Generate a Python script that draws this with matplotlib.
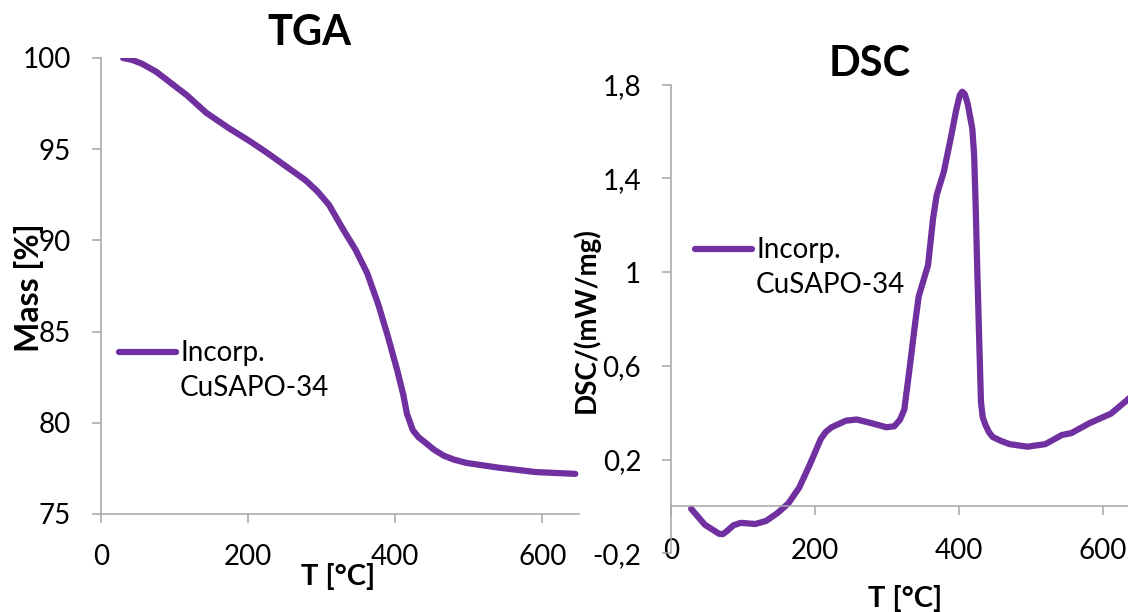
import numpy as np
import matplotlib.pyplot as plt
from matplotlib.ticker import FuncFormatter

# TGA curve (T in °C, mass in %)
tga_temp = [30, 42, 55, 75, 96, 117, 143, 174, 200, 226, 252, 278, 294, 310, 330,
            346, 362, 377, 390, 403, 411, 416, 424, 432, 440, 452, 466, 480, 497,
            539, 591, 645]
tga_mass = [100.0, 99.9, 99.7, 99.25, 98.6, 97.95, 97.0, 96.15, 95.5, 94.8, 94.05,
            93.3, 92.7, 91.95, 90.55, 89.5, 88.2, 86.5, 84.75, 82.85, 81.55, 80.5,
            79.6, 79.2, 78.95, 78.55, 78.2, 77.98, 77.8, 77.55, 77.3, 77.2]

# DSC curve (T in °C, DSC in mW/mg)
dsc_temp = [28, 47, 67, 72, 77, 87, 97, 117, 132, 148, 163, 178, 193, 208, 215,
            223, 243, 258, 279, 299, 310, 318, 324, 331, 339, 344, 357, 364, 369,
            379, 389, 396, 401, 404.5, 408, 412, 418.5, 421, 423, 425.5, 428.5,
            430.5, 433, 437, 442, 447, 458, 470, 495, 520, 543, 556, 581, 611,
            634, 645]
dsc_val = [-0.01, -0.078, -0.117, -0.118, -0.107, -0.08, -0.07, -0.075, -0.062,
           -0.028, 0.013, 0.08, 0.18, 0.288, 0.318, 0.338, 0.366, 0.371, 0.355,
           0.338, 0.342, 0.37, 0.413, 0.58, 0.78, 0.896, 1.03, 1.229, 1.329,
           1.429, 1.579, 1.69, 1.755, 1.77, 1.76, 1.72, 1.612, 1.5, 1.3, 0.996,
           0.663, 0.446, 0.38, 0.346, 0.315, 0.296, 0.28, 0.266, 0.255, 0.266,
           0.305, 0.313, 0.355, 0.396, 0.455, 0.49]

label = "Incorp.\nCuSAPO-34"
purple = "#7030A0"
axis_gray = "#A6A6A6"

plt.rcParams['font.family'] = ['Lato', 'DejaVu Sans']

W, H = 1128, 612
fig = plt.figure(figsize=(W / 100, H / 100), dpi=100)


def px_box(x0, y_top, x1, y_bot):
    return [x0 / W, 1 - y_bot / H, (x1 - x0) / W, (y_bot - y_top) / H]


def style_axes(ax):
    for side in ['top', 'right']:
        ax.spines[side].set_visible(False)
    for side in ['left', 'bottom']:
        ax.spines[side].set_color(axis_gray)
        ax.spines[side].set_linewidth(1.1)
    ax.tick_params(colors=axis_gray, labelcolor='black', labelsize=20,
                   length=6.5, width=1.1, direction='out')


def add_legend(ax, x_px, y_px):
    leg = ax.legend(frameon=False, fontsize=20, loc='upper left',
                    bbox_to_anchor=(x_px / W, 1 - y_px / H),
                    bbox_transform=fig.transFigure, borderpad=0,
                    borderaxespad=0, handlelength=2.05, handletextpad=0.15)
    for t in leg.get_texts():
        t.set_linespacing(1.42)
    # Excel puts the legend line next to the first text line
    for h in leg.legend_handles:
        h.set_ydata(np.asarray(h.get_ydata()) + 13.5)
    return leg


# ---- TGA ----
ax1 = fig.add_axes(px_box(101, 58, 579, 514))
ax1.plot(tga_temp, tga_mass, color=purple, lw=4.5, solid_capstyle='round',
         solid_joinstyle='round', label=label)
ax1.set_xlim(0, 650)
ax1.set_ylim(75, 100)
ax1.set_xticks([0, 200, 400, 600])
ax1.set_yticks([75, 80, 85, 90, 95, 100])
style_axes(ax1)
ax1.tick_params(axis='x', pad=15)
ax1.tick_params(axis='y', pad=15)
ax1.set_xlabel("T [°C]", fontsize=21, fontweight='bold', va='center')
ax1.xaxis.set_label_coords(338 / W, 1 - 577 / H, transform=fig.transFigure)
ax1.set_ylabel("Mass [%]", fontsize=23, fontweight='bold', va='center')
ax1.yaxis.set_label_coords(29 / W, 1 - 288 / H, transform=fig.transFigure)
fig.text(309 / W, 1 - 33 / H, "TGA", fontsize=30, fontweight='bold',
         ha='center', va='center')
add_legend(ax1, 119, 340)

# ---- DSC ----
ax2 = fig.add_axes(px_box(671, 84.7, 671 + 650 * 0.72, 553.3))
ax2.plot(dsc_temp, dsc_val, color=purple, lw=4.5, solid_capstyle='round',
         solid_joinstyle='round', label=label)
ax2.set_xlim(0, 650)
ax2.set_ylim(-0.2, 1.8)
ax2.set_xticks([0, 200, 400, 600])
ax2.set_yticks([-0.2, 0.2, 0.6, 1.0, 1.4, 1.8])
ax2.yaxis.set_major_formatter(FuncFormatter(lambda v, p: f"{v:g}".replace('.', ',')))
ax2.spines['bottom'].set_position(('data', 0))
style_axes(ax2)
ax2.tick_params(axis='x', pad=16.5)
ax2.tick_params(axis='y', pad=15)
ax2.set_xlabel("T [°C]", fontsize=21, fontweight='bold', va='center')
ax2.xaxis.set_label_coords(905 / W, 1 - 598 / H, transform=fig.transFigure)
ax2.set_ylabel("DSC/(mW/mg)", fontsize=20, fontweight='bold', va='center')
ax2.yaxis.set_label_coords(586 / W, 1 - 320 / H, transform=fig.transFigure)
fig.text(870 / W, 1 - 63.5 / H, "DSC", fontsize=30, fontweight='bold',
         ha='center', va='center')
add_legend(ax2, 695, 237)

fig.savefig("out.png", dpi=100)
